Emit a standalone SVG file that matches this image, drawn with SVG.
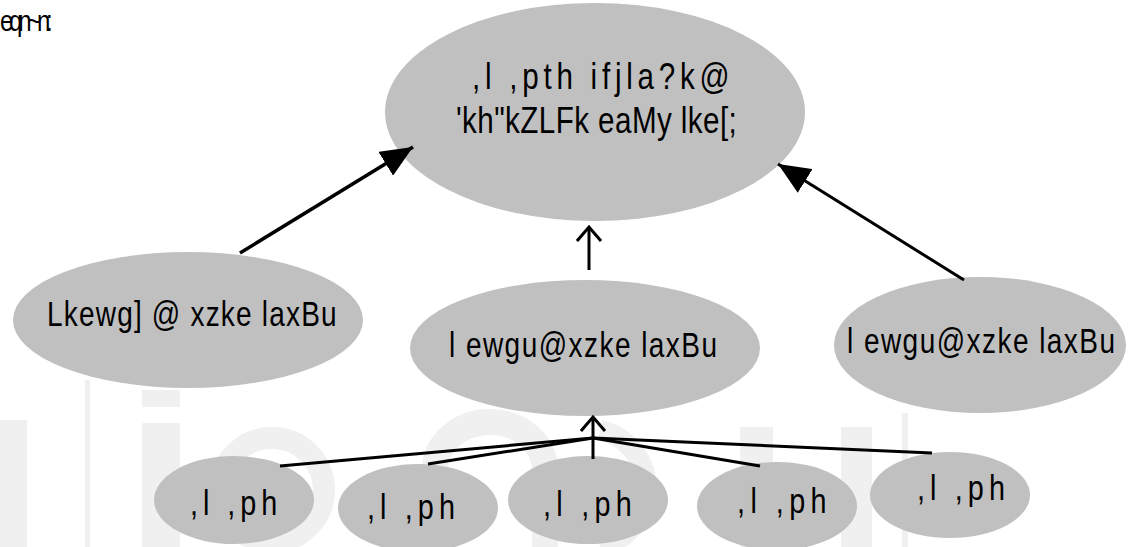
<svg xmlns="http://www.w3.org/2000/svg" width="1128" height="547" viewBox="0 0 1128 547">
<style>
.node ellipse{fill:#c0c0c0;}
.lbl{font-family:"Liberation Sans",Arial,sans-serif;fill:#000;font-size:36px;}
.wm{fill:#f0f0f0;}
.wmr{fill:none;stroke:#f0f0f0;}
.conn line{stroke:#000;stroke-width:3;}
</style>
<defs>
<marker id="solid" markerWidth="34" markerHeight="28" refX="32" refY="14" orient="auto" markerUnits="userSpaceOnUse">
<path d="M0,0 L32,14 L0,28 z" fill="#000"/>
</marker>
<marker id="open" markerWidth="18" markerHeight="30" refX="15" refY="13" orient="auto" markerUnits="userSpaceOnUse">
<path d="M1,1 L15,13 L1,25" fill="none" stroke="#000" stroke-width="3"/>
</marker>
</defs>
<rect width="1128" height="547" fill="#fff"/>
<g id="watermark">
<rect class="wm" x="0" y="420" width="27" height="127"/>
<rect class="wm" x="85" y="380" width="5" height="167"/>
<rect class="wm" x="142" y="390" width="38" height="17"/>
<rect class="wm" x="142" y="423" width="38" height="124"/>
<circle class="wmr" cx="272" cy="490" r="52" stroke-width="22"/>
<path class="wmr" d="M435,547 L435,470 A55,48 0 0 1 545,470 L545,547" stroke-width="26"/>
<path class="wmr" d="M600,430 A60,60 0 0 1 600,547" stroke-width="20"/>
<rect class="wm" x="740" y="427" width="33" height="120"/>
<rect class="wm" x="841" y="427" width="31" height="120"/>
<rect class="wm" x="902" y="413" width="6" height="134"/>
</g>
<text class="lbl" transform="translate(0,31) scale(0.8,1)" style="font-size:30px" textLength="66" lengthAdjust="spacing">eqn~n:</text>
<g id="n-top" class="node">
<ellipse cx="595" cy="112" rx="210" ry="109"/>
<text class="lbl" transform="translate(472,89) scale(0.8,1)" style="font-size:37px" textLength="322" lengthAdjust="spacing">,l ,pth ifjla?k@</text>
<text class="lbl" transform="translate(456,133) scale(0.8,1)" style="font-size:37px" textLength="351" lengthAdjust="spacing">'kh"kZLFk eaMy lke[;</text>
</g>
<g id="n-left" class="node">
<ellipse cx="188" cy="320" rx="175" ry="68"/>
<text class="lbl" transform="translate(47,326) scale(0.8,1)" style="font-size:35px" textLength="362" lengthAdjust="spacing">Lkewg] @ xzke laxBu</text>
</g>
<g id="n-center" class="node">
<ellipse cx="585" cy="348" rx="175" ry="68"/>
<text class="lbl" transform="translate(449,357) scale(0.8,1)" style="font-size:35px" textLength="335" lengthAdjust="spacing">l ewgu@xzke laxBu</text>
</g>
<g id="n-right" class="node">
<ellipse cx="980" cy="345" rx="146" ry="68"/>
<text class="lbl" transform="translate(847,353) scale(0.8,1)" style="font-size:35px" textLength="335" lengthAdjust="spacing">l ewgu@xzke laxBu</text>
</g>
<g id="n-b1" class="node">
<ellipse cx="234" cy="500" rx="80" ry="44"/>
<text class="lbl" transform="translate(190,515) scale(0.8,1)" textLength="109" lengthAdjust="spacing">,l ,ph</text>
</g>
<g id="n-b2" class="node">
<ellipse cx="418" cy="508" rx="80" ry="44"/>
<text class="lbl" transform="translate(367,519) scale(0.8,1)" textLength="110" lengthAdjust="spacing">,l ,ph</text>
</g>
<g id="n-b3" class="node">
<ellipse cx="588" cy="500" rx="80" ry="44"/>
<text class="lbl" transform="translate(543,516) scale(0.8,1)" textLength="111" lengthAdjust="spacing">,l ,ph</text>
</g>
<g id="n-b4" class="node">
<ellipse cx="777" cy="506" rx="80" ry="44"/>
<text class="lbl" transform="translate(737,513) scale(0.8,1)" textLength="112" lengthAdjust="spacing">,l ,ph</text>
</g>
<g id="n-b5" class="node">
<ellipse cx="950" cy="495" rx="80" ry="43"/>
<text class="lbl" transform="translate(917,500) scale(0.8,1)" textLength="110" lengthAdjust="spacing">,l ,ph</text>
</g>
<g id="connectors" class="conn">
<line x1="240" y1="253" x2="413" y2="147" marker-end="url(#solid)" style="stroke-width:3.5"/>
<line x1="964" y1="280" x2="778" y2="164" marker-end="url(#solid)"/>
<line x1="589" y1="270" x2="589" y2="227" marker-end="url(#open)"/>
<line x1="593" y1="459" x2="593" y2="417" marker-end="url(#open)"/>
<line x1="593" y1="438" x2="280" y2="466"/>
<line x1="593" y1="438" x2="428" y2="464"/>
<line x1="593" y1="438" x2="760" y2="466"/>
<line x1="593" y1="438" x2="932" y2="453"/>
</g>
</svg>
